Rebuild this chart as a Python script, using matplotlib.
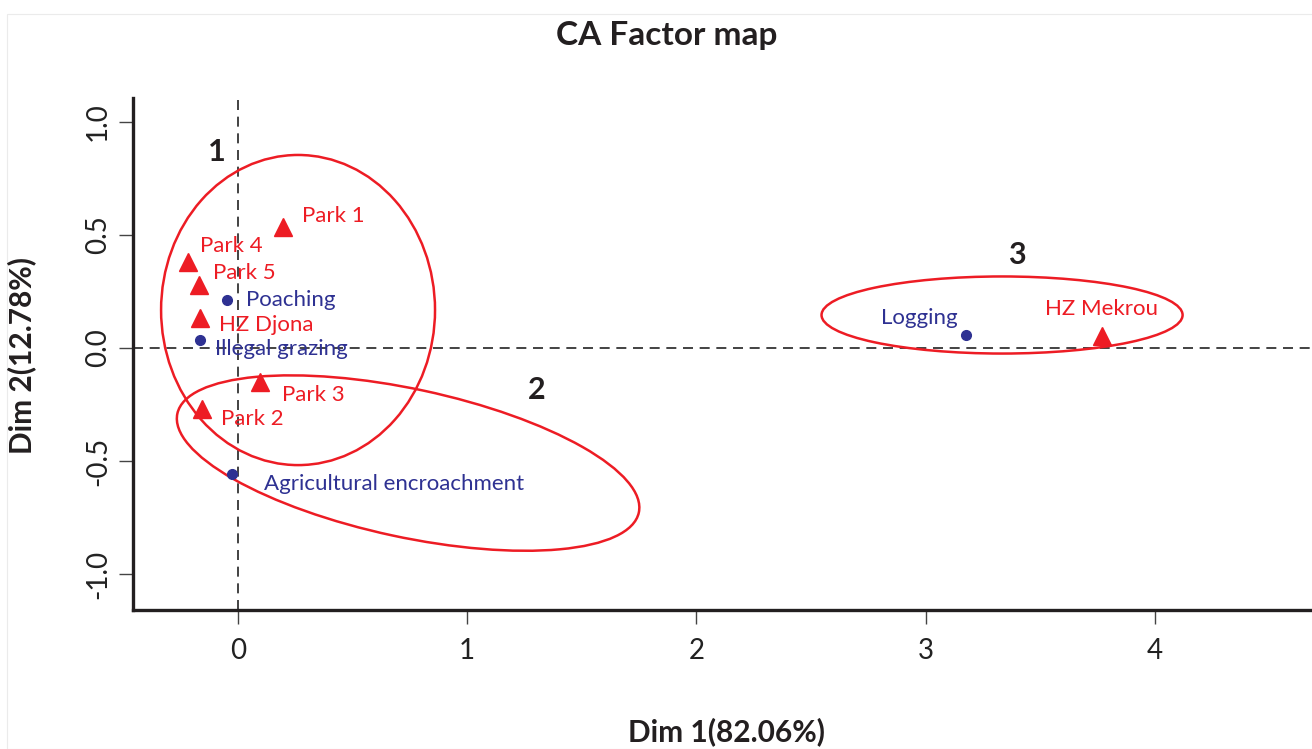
import matplotlib.pyplot as plt
from matplotlib.patches import Ellipse, Rectangle

plt.rcParams['font.family'] = ['Lato', 'DejaVu Sans']

# row points: sites (red triangles)
site_names = ['Park 1', 'Park 4', 'Park 5', 'HZ Djona', 'Park 3', 'Park 2', 'HZ Mekrou']
site_dim1 = [0.195, -0.217, -0.170, -0.164, 0.096, -0.158, 3.767]
site_dim2 = [0.534, 0.382, 0.279, 0.131, -0.149, -0.271, 0.053]

# column points: threats (blue dots)
threat_names = ['Poaching', 'Illegal grazing', 'Agricultural encroachment', 'Logging']
threat_dim1 = [-0.048, -0.166, -0.025, 3.174]
threat_dim2 = [0.211, 0.035, -0.558, 0.056]

# groups drawn on top: centre x, centre y, width, height, angle
group_ids = ['1', '2', '3']
group_cx = [0.262, 0.742, 3.333]
group_cy = [0.168, -0.509, 0.146]
group_w = [1.195, 2.06, 1.575]
group_h = [1.372, 0.655, 0.341]
group_angle = [0, -12.3, 0]
group_label_x = [-0.092, 1.304, 3.397]
group_label_y = [0.867, -0.186, 0.412]

# label offsets in pixels (dx, dy, ha)
site_offsets = [(19, 11, 'left'), (12, 16, 'left'), (14, 12, 'left'), (19, -7, 'left'),
                (22, -13, 'left'), (19, -10, 'left'), (0, 27, 'center')]
threat_offsets = [(19, 0, 'left'), (15, -9, 'left'), (32, -10, 'left'), (-8, 17, 'right')]

red = '#ed1c24'
blue = '#2e3192'

fig = plt.figure(figsize=(13.12, 7.49), dpi=100)
ax = fig.add_axes([133 / 1312, 139 / 749, 1179 / 1312, 512 / 749])

ax.axhline(0, color='#222222', lw=1.2, ls=(0, (6, 4)), zorder=1)
ax.axvline(0, color='#222222', lw=1.2, ls=(0, (6, 4)), zorder=1)

ax.plot(site_dim1, site_dim2, ls='none', marker='^', ms=13, color=red, zorder=3)
ax.plot(threat_dim1, threat_dim2, ls='none', marker='o', ms=7, color=blue, zorder=3)

for name, x, y, (dx, dy, ha) in zip(site_names, site_dim1, site_dim2, site_offsets):
    ax.annotate(name, (x, y), xytext=(dx, dy), textcoords='offset pixels',
                ha=ha, va='center', fontsize=16, color=red)
for name, x, y, (dx, dy, ha) in zip(threat_names, threat_dim1, threat_dim2, threat_offsets):
    ax.annotate(name, (x, y), xytext=(dx, dy), textcoords='offset pixels',
                ha=ha, va='center', fontsize=16, color=blue)

for gid, cx, cy, w, h, a, lx, ly in zip(group_ids, group_cx, group_cy, group_w, group_h,
                                        group_angle, group_label_x, group_label_y):
    ax.add_patch(Ellipse((cx, cy), w, h, angle=a, fill=False, ec=red, lw=1.8, zorder=2))
    ax.text(lx, ly, gid, fontsize=22, fontweight='bold', color='#231f20',
            ha='center', va='center')

ax.set_xlim(-0.458, 4.685)
ax.set_ylim(-1.159, 1.106)
ax.set_xticks([0, 1, 2, 3, 4])
ax.set_yticks([-1.0, -0.5, 0.0, 0.5, 1.0])
ax.set_yticklabels(['-1.0', '-0.5', '0.0', '0.5', '1.0'], rotation=90, va='center')

for side in ['top', 'right']:
    ax.spines[side].set_visible(False)
for side in ['left', 'bottom']:
    ax.spines[side].set_linewidth(2.4)
    ax.spines[side].set_color('#231f20')
ax.tick_params(axis='both', direction='out', length=10, width=1, color='#444444',
               labelsize=20, labelcolor='#222222')
ax.tick_params(axis='x', pad=10)
ax.tick_params(axis='y', pad=6)

fig.text(667 / 1312, 1 - 35 / 749, 'CA Factor map', ha='center', va='center',
         fontsize=24, fontweight='bold', color='#231f20')
fig.text(726 / 1312, 1 - 732 / 749, 'Dim 1(82.06%)', ha='center', va='center',
         fontsize=21.5, fontweight='bold', color='#231f20')
fig.text(22 / 1312, 1 - 355 / 749, 'Dim 2(12.78%)', ha='center', va='center',
         rotation=90, fontsize=21.5, fontweight='bold', color='#231f20')

fig.patches.append(Rectangle((7 / 1312, 0), 1, 1 - 14 / 749, transform=fig.transFigure,
                             fill=False, ec='#ebebeb', lw=0.8))

fig.savefig('out.png', dpi=100)
